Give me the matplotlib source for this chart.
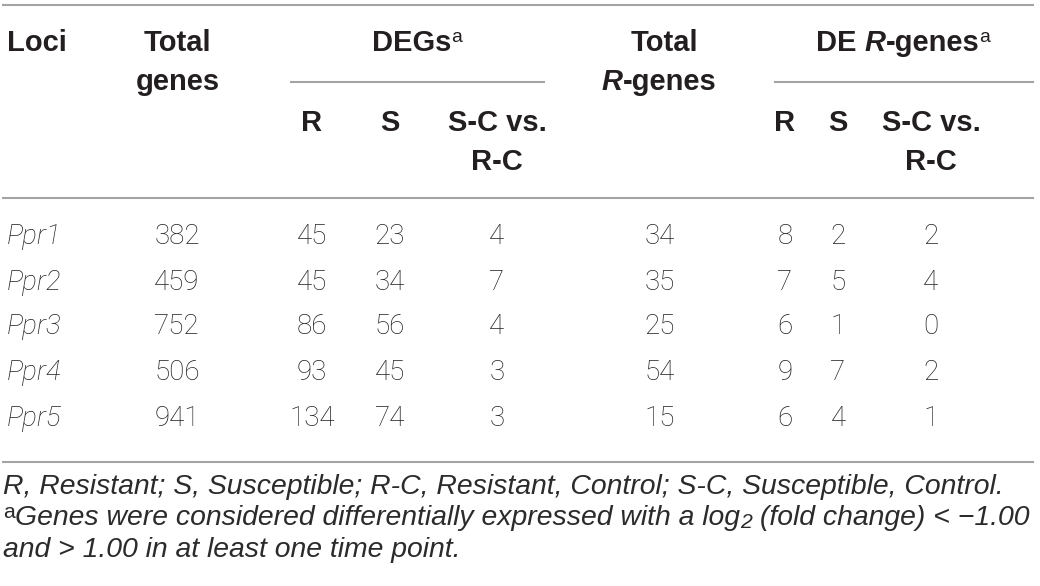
import matplotlib
matplotlib.use("Agg")
import matplotlib.pyplot as plt

# table contents
loci = ["Ppr1", "Ppr2", "Ppr3", "Ppr4", "Ppr5"]
total_genes = [382, 459, 752, 506, 941]
deg_r = [45, 45, 86, 93, 134]
deg_s = [23, 34, 56, 45, 74]
deg_sc_vs_rc = [4, 7, 4, 3, 3]
total_r_genes = [34, 35, 25, 54, 15]
de_r = [8, 7, 6, 9, 6]
de_s = [2, 5, 1, 7, 4]
de_sc_vs_rc = [2, 4, 0, 2, 1]

footnote_1 = "R, Resistant; S, Susceptible; R-C, Resistant, Control; S-C, Susceptible, Control."
footnote_2 = ["Genes were considered differentially expressed with a log", "2", " (fold change) < \u22121.00"]
footnote_3 = "and > 1.00 in at least one time point."

INK = "#231f20"
RULE = "#a3a3a3"
HEAD = dict(family=["Liberation Sans", "DejaVu Sans"], weight="bold", fontsize=21, color=INK)
BODY = dict(family=["Roboto", "DejaVu Sans"], weight="light", fontsize=20, color=INK)
NOTE = dict(family=["Liberation Sans", "DejaVu Sans"], style="italic", fontsize=16, color="#2b2b2b")

fig = plt.figure(figsize=(10.4, 5.86), dpi=100)
ax = fig.add_axes([0, 0, 1, 1])
ax.set_xlim(0, 1040)
ax.set_ylim(586, 0)
ax.axis("off")
renderer = fig.canvas.get_renderer()


def width_of(txt, st):
    t = ax.text(0, 0, txt, **st)
    w = t.get_window_extent(renderer).width
    t.remove()
    return w


def runs(x, y, parts, ha="center"):
    """Draw a row of differently styled pieces; parts = [(text, style, dy)]."""
    widths = [width_of(txt, st) for txt, st, dy in parts]
    x0 = x - sum(widths) / 2 if ha == "center" else x
    for (txt, st, dy), w in zip(parts, widths):
        ax.text(x0, y + dy, txt, ha="left", va="center", **st)
        x0 += w


def sup(st, scale=0.62, **kw):
    d = dict(st, **kw)
    d["fontsize"] = st["fontsize"] * scale
    return d


def note_line2():
    return [("a", sup(NOTE, 0.75, style="normal"), -5), (footnote_2[0], NOTE, 0),
            (footnote_2[1], sup(NOTE, 0.75), 5), (footnote_2[2], NOTE, 0)]


# footnote size: the second line fills the full width in the original
NOTE["fontsize"] *= 1028 / sum(width_of(t, s) for t, s, _ in note_line2())

# rules
for y in (5, 198, 462):
    ax.plot([2, 1034], [y, y], color=RULE, lw=1.5, solid_capstyle="butt")
ax.plot([290, 545], [82, 82], color=RULE, lw=1.5, solid_capstyle="butt")
ax.plot([774, 1034], [82, 82], color=RULE, lw=1.5, solid_capstyle="butt")

# header
hi = dict(HEAD, style="italic")
hsup = sup(HEAD, 0.66, weight="normal")
ax.text(7, 43, "Loci", ha="left", va="center", **HEAD)
ax.text(177, 43, "Total", ha="center", va="center", **HEAD)
ax.text(178, 82, "genes", ha="center", va="center", **HEAD)
runs(417, 43, [("DEGs", HEAD, 0), ("a", hsup, -6)])
ax.text(664, 43, "Total", ha="center", va="center", **HEAD)
runs(659, 82, [("R", hi, 0), ("-genes", HEAD, 0)])
runs(903, 43, [("DE ", HEAD, 0), ("R", hi, 0), ("-genes", HEAD, 0), ("a", hsup, -6)])

sub_cols = [(312, "R"), (390, "S"), (785, "R"), (838, "S")]
for x, lab in sub_cols:
    ax.text(x, 123, lab, ha="center", va="center", **HEAD)
for x in (497, 931):
    ax.text(x, 123, "S-C vs.", ha="center", va="center", **HEAD)
    ax.text(x, 162, "R-C", ha="center", va="center", **HEAD)

# body
row_y = [237, 282, 327, 373, 418]
columns = [
    (177, total_genes), (312, deg_r), (390, deg_s), (497, deg_sc_vs_rc),
    (660, total_r_genes), (785, de_r), (838, de_s), (931, de_sc_vs_rc),
]
for i, y in enumerate(row_y):
    ax.text(7, y, loci[i], ha="left", va="center", **dict(BODY, style="italic"))
    for x, vals in columns:
        ax.text(x, y, str(vals[i]), ha="center", va="center", **BODY)

# footnotes
ax.text(3, 487, footnote_1, ha="left", va="center", **NOTE)
runs(3, 518, note_line2(), ha="left")
ax.text(3, 550, footnote_3, ha="left", va="center", **NOTE)

fig.savefig("out.png", dpi=100)
